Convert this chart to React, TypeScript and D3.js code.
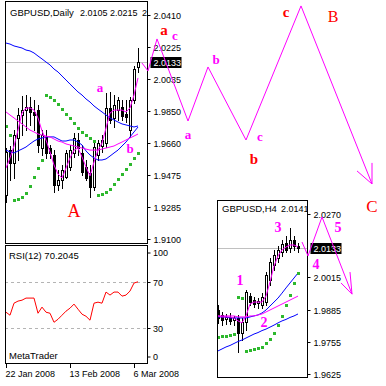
import React, { useEffect, useRef } from 'react';
import * as d3 from 'd3';

// GBPUSD daily bars, 22 Jan 2008 .. 7 Mar 2008
const dOpen = [1.9357, 1.962, 1.9544, 1.9691, 1.9825, 1.9854, 1.9872, 1.9843, 1.9854, 1.9632, 1.9697, 1.9632, 1.9591, 1.9416, 1.9445, 1.9463, 1.9521, 1.9603, 1.9679, 1.9603, 1.9521, 1.9486, 1.9404, 1.9591, 1.9644, 1.9661, 1.9866, 1.9808, 1.9854, 1.9872, 1.9831, 1.9737, 1.9913, 2.0105];
const dHigh = [1.9632, 1.9644, 1.9737, 1.9866, 1.9936, 1.9942, 1.993, 1.9913, 1.9884, 1.9737, 1.9737, 1.965, 1.962, 1.9504, 1.9533, 1.962, 1.965, 1.972, 1.972, 1.965, 1.9562, 1.9533, 1.9661, 1.9679, 1.9708, 1.9954, 1.996, 1.9942, 1.993, 1.9913, 1.9913, 1.993, 2.0112, 2.0215];
const dLow = [1.9316, 1.9445, 1.9457, 1.9562, 1.9708, 1.9737, 1.9767, 1.9737, 1.9609, 1.9591, 1.9574, 1.9574, 1.9375, 1.9387, 1.9398, 1.9457, 1.9504, 1.958, 1.9591, 1.9474, 1.9445, 1.9346, 1.9387, 1.9562, 1.9609, 1.9638, 1.9778, 1.9755, 1.9796, 1.9796, 1.9784, 1.9697, 1.9895, 2.0077];
const dClose = [1.9609, 1.9544, 1.9708, 1.9825, 1.9854, 1.9872, 1.9843, 1.9825, 1.965, 1.9708, 1.9603, 1.9603, 1.9416, 1.9445, 1.9504, 1.9603, 1.962, 1.9691, 1.9632, 1.9492, 1.9457, 1.9404, 1.9638, 1.9661, 1.9679, 1.9866, 1.9796, 1.9884, 1.9913, 1.9819, 1.9814, 1.9913, 2.0094, 2.0133];

// indicator lines
const dBlueSlow = [2.0246, 2.024, 2.0229, 2.0223, 2.0217, 2.0205, 2.02, 2.0188, 2.017, 2.0153, 2.0135, 2.0118, 2.0094, 2.0077, 2.0053, 2.003, 2.0006, 1.9983, 1.996, 1.9942, 1.9919, 1.9901, 1.9878, 1.986, 1.9843, 1.9825, 1.9808, 1.9796, 1.9784, 1.9773, 1.9767, 1.9761, 1.9755, 1.9761];
const dBlueFast = [1.962, 1.9609, 1.9603, 1.9615, 1.9626, 1.9638, 1.9656, 1.9673, 1.9685, 1.9691, 1.9697, 1.9697, 1.9697, 1.9685, 1.9673, 1.9673, 1.9679, 1.9679, 1.9667, 1.965, 1.9615, 1.9591, 1.9574, 1.9562, 1.9562, 1.9568, 1.9585, 1.9603, 1.962, 1.9644, 1.9667, 1.9697, 1.9726, 1.9755];
const dMagSlow = [1.9843, 1.9825, 1.9808, 1.979, 1.9773, 1.9755, 1.9737, 1.9726, 1.9714, 1.9708, 1.9702, 1.9697, 1.9685, 1.9673, 1.9667, 1.9656, 1.965, 1.9644, 1.9638, 1.9632, 1.9626, 1.962, 1.962, 1.962, 1.9626, 1.9632, 1.9638, 1.9644, 1.9656, 1.9667, 1.9679, 1.9691, 1.9702, 1.9714];
const dMagFast = [1.9515, 1.9574, 1.9644, 1.9737, 1.9837, 1.9866, 1.9866, 1.9854, 1.9808, 1.9732, 1.9679, 1.9609, 1.9533, 1.948, 1.9457, 1.9515, 1.9574, 1.962, 1.9632, 1.958, 1.9521, 1.9469, 1.955, 1.962, 1.9661, 1.9749, 1.9837, 1.9854, 1.9854, 1.9854, 1.9843, 1.9866, 1.9942, 2.0042];
const dSar = [1.9761, 1.9708, 1.9328, 1.9334, 1.9346, 1.9369, 1.941, 1.9463, 1.9515, 1.9562, 1.9942, 1.993, 1.9913, 1.989, 1.986, 1.9831, 1.9808, 1.9778, 1.9749, 1.9726, 1.9708, 1.9691, 1.9673, 1.9357, 1.9363, 1.9375, 1.9392, 1.9422, 1.9451, 1.948, 1.9509, 1.9539, 1.9574, 1.9603];
const dRsi = [43.9, 41.3, 51.7, 53.5, 54.3, 56.1, 56.1, 56.1, 43.0, 48.3, 43.9, 43.0, 35.2, 37.8, 41.3, 44.8, 47.4, 50.9, 46.5, 42.2, 40.4, 37.0, 51.7, 52.6, 51.7, 61.3, 58.7, 61.3, 61.3, 57.8, 58.7, 62.2, 69.1, 70.2];

const dPriceTicks = [2.041, 2.0225, 2.0035, 1.985, 1.966, 1.9475, 1.9285, 1.91];
const rsiTicks = [100, 70, 30, 0];
const dateTickIdx = [0, 16, 32];
const dateTickLabels = ['22 Jan 2008', '13 Feb 2008', '6 Mar 2008'];
const lastPrice = 2.0133;

// GBPUSD H4 inset bars
const hOpen = [1.9883, 1.9863, 1.9847, 1.9855, 1.9843, 1.9851, 1.979, 1.9835, 1.9939, 1.9923, 1.9911, 1.9903, 1.9915, 2.0004, 2.0064, 2.0093, 2.0117, 2.0153, 2.0133, 2.0165, 2.0141];
const hHigh = [1.9903, 1.9875, 1.9867, 1.9871, 1.9859, 1.9863, 1.9851, 1.9964, 1.9951, 1.9935, 1.9931, 1.9951, 2.0036, 2.0093, 2.0125, 2.0141, 2.0165, 2.0181, 2.0214, 2.0181, 2.0153];
const hLow = [1.9831, 1.9822, 1.9826, 1.9826, 1.9822, 1.9714, 1.9762, 1.9802, 1.9903, 1.9895, 1.9891, 1.9891, 1.9903, 1.9984, 2.0044, 2.0076, 2.0101, 2.0117, 2.0117, 2.0125, 2.0117];
const hClose = [1.9851, 1.9843, 1.9855, 1.9839, 1.9851, 1.979, 1.9835, 1.9955, 1.9915, 1.9907, 1.9919, 1.9935, 2.0024, 2.0076, 2.0105, 2.0125, 2.0149, 2.0125, 2.0165, 2.0141, 2.0133];
const hMagFast = [1.9859, 1.9855, 1.9855, 1.9855, 1.9851, 1.9839, 1.9831, 1.9859, 1.9907, 1.9915, 1.9915, 1.9915, 1.9939, 1.9996, 2.006, 2.0101, 2.0125, 2.0137, 2.0145, 2.0145, 2.0137];
const hMagSlow = [1.9859, 1.9859, 1.9859, 1.9859, 1.9859, 1.9855, 1.9855, 1.9855, 1.9859, 1.9859, 1.9863, 1.9867, 1.9875, 1.9883, 1.9891, 1.9899, 1.9907, 1.9915, 1.9923, 1.9931, 1.9939];
const hBlueFast = [1.9855, 1.9855, 1.9855, 1.9851, 1.9851, 1.9851, 1.9851, 1.9851, 1.9855, 1.9859, 1.9863, 1.9871, 1.9883, 1.9899, 1.9915, 1.9931, 1.9951, 1.9972, 1.9992, 2.0012, 2.0032];
const hBlueSlow = [1.9718, 1.9726, 1.9734, 1.974, 1.9748, 1.9756, 1.9762, 1.977, 1.9778, 1.9786, 1.9792, 1.98, 1.9806, 1.9814, 1.9822, 1.9831, 1.9839, 1.9845, 1.9853, 1.9859, 1.9867];
const hSar = [1.9774, 1.9778, 1.9778, 1.9782, 1.9786, 1.9935, 1.9931, 1.9718, 1.9722, 1.9726, 1.973, 1.9734, 1.975, 1.9766, 1.979, 1.9822, 1.9859, 1.9903, 1.9943, 1.9992, 2.0032];
const hPriceTicks = [2.027, 2.0015, 1.9885, 1.9755, 1.9625];

// hand-drawn wave forecasts: [bar offset, price]
const waveDaily = [[34, 2.0129], [35.5, 2.0083], [37.75, 2.027], [45.5, 1.979], [50.5, 2.0106], [60, 1.9679], [73.75, 2.0463], [91.5, 1.9422]];
const waveDailyHead = [[87.75, 1.9498], [91.5, 1.9422], [91.5, 1.9545]];
const waveH4 = [[21, 2.0157], [22.5, 2.0101], [26, 2.0258], [33.5, 1.9947]];
const waveH4Head = [[30.75, 1.9992], [33.5, 1.9947], [33, 2.0036]];

// wave labels: [bar offset, price, text, colour, size, bold]
const dailyLabels: [number, number, string, string, number, boolean][] = [
  [23.5, 1.996, 'a', '#ff00ff', 13, true],
  [31, 1.9603, 'b', '#ff00ff', 13, true],
  [17, 1.9229, 'A', '#ff0000', 18, false],
  [39.5, 2.0293, 'a', '#ff0000', 15, true],
  [42.25, 2.0264, 'c', '#ff00ff', 13, true],
  [52.5, 2.0123, 'b', '#ff00ff', 13, true],
  [45.5, 1.9685, 'a', '#ff00ff', 13, true],
  [63.5, 1.9673, 'c', '#ff00ff', 13, true],
  [62, 1.9539, 'b', '#ff0000', 15, true],
  [70, 2.0398, 'c', '#ff0000', 15, true],
  [81.75, 2.0369, 'B', '#ff0000', 16, false],
  [91.5, 1.9258, 'C', '#ff0000', 17, false],
];
const h4Labels: [number, number, string][] = [
  [15, 2.0197, '3'],
  [30, 2.0197, '5'],
  [24.5, 2.0048, '4'],
  [5.5, 1.9984, '1'],
  [11.5, 1.9814, '2'],
];

const UI_FONT = '"Liberation Sans", Arial, sans-serif';
const LABEL_FONT = '"Liberation Serif", "Times New Roman", serif';

function candles(g, o, h, l, c, x, y) {
  o.forEach((open, i) => {
    const cx = Math.round(x(i));
    const top = Math.round(y(Math.max(open, c[i])));
    const bot = Math.round(y(Math.min(open, c[i])));
    g.append('line')
      .attr('x1', cx + 0.5).attr('x2', cx + 0.5)
      .attr('y1', Math.round(y(h[i]))).attr('y2', Math.round(y(l[i])) + 1)
      .attr('stroke', '#000');
    g.append('rect')
      .attr('x', cx - 0.5).attr('y', top + 0.5)
      .attr('width', 2).attr('height', Math.max(bot - top, 1))
      .attr('fill', c[i] >= open ? '#fff' : '#000')
      .attr('stroke', '#000');
  });
}

function series(g, vals, x, y, color) {
  g.append('path')
    .datum(vals)
    .attr('fill', 'none')
    .attr('stroke', color)
    .attr('stroke-width', 1)
    .attr('d', d3.line<number>().x((d, i) => x(i)).y((d) => y(d)));
}

function dots(g, vals, x, y) {
  g.selectAll(null)
    .data(vals)
    .enter()
    .append('rect')
    .attr('x', (d, i) => Math.round(x(i)) - 1)
    .attr('y', (d) => Math.round(y(d)) - 1)
    .attr('width', 3)
    .attr('height', 3)
    .attr('fill', '#2db82d');
}

function priceAxis(svg, ticks, y, x0, last) {
  ticks.forEach((t) => {
    const yy = Math.round(y(t)) + 0.5;
    svg.append('line').attr('x1', x0).attr('x2', x0 + 3).attr('y1', yy).attr('y2', yy).attr('stroke', '#000');
    svg.append('text').attr('x', x0 + 6).attr('y', yy).attr('dy', '0.35em')
      .attr('font-family', UI_FONT).attr('font-size', 9).text(t.toFixed(4));
  });
  const ly = Math.round(y(last));
  svg.append('rect').attr('x', x0 + 3).attr('y', ly - 5).attr('width', 31).attr('height', 11).attr('fill', '#000');
  svg.append('text').attr('x', x0 + 6).attr('y', ly + 0.5).attr('dy', '0.35em')
    .attr('font-family', UI_FONT).attr('font-size', 9).attr('fill', '#fff').text(last.toFixed(4));
}

function waveLine(svg, pts, x, y) {
  svg.append('path')
    .datum(pts)
    .attr('fill', 'none')
    .attr('stroke', '#ff00ff')
    .attr('d', d3.line<number[]>().x((d) => x(d[0])).y((d) => y(d[1])));
}

const App = () => {
  const ref = useRef<SVGSVGElement>(null);

  useEffect(() => {
    const svg = d3.select(ref.current);
    svg.selectAll('*').remove();

    // panels
    const main = { x0: 5, x1: 147, y0: 1, y1: 243 };
    const rsiP = { x0: 5, x1: 147, y0: 245, y1: 363 };
    const ins = { x0: 217, x1: 307, y0: 200, y1: 377 };

    const xD = d3.scaleLinear().domain([0, 33]).range([6, 138]);
    const yD = d3.scaleLinear().domain([1.91, 2.041]).range([239, 15]);
    const yR = d3.scaleLinear().domain([0, 100]).range([363, 247.3]);
    const xH = d3.scaleLinear().domain([0, 20]).range([218, 298]);
    const yH = d3.scaleLinear().domain([1.9625, 2.027]).range([374, 214]);

    const defs = svg.append('defs');
    [['clipMain', main], ['clipRsi', rsiP], ['clipIns', ins]].forEach(([id, p]: any) => {
      defs.append('clipPath').attr('id', id).append('rect')
        .attr('x', p.x0).attr('y', p.y0).attr('width', p.x1 - p.x0).attr('height', p.y1 - p.y0);
    });

    // ---- daily chart ----
    const gm = svg.append('g').attr('clip-path', 'url(#clipMain)');
    const lpY = Math.round(yD(lastPrice)) + 0.5;
    gm.append('line').attr('x1', main.x0).attr('x2', main.x1).attr('y1', lpY).attr('y2', lpY).attr('stroke', '#c0c0c0');
    candles(gm, dOpen, dHigh, dLow, dClose, xD, yD);
    series(gm, dBlueSlow, xD, yD, '#0000ff');
    series(gm, dBlueFast, xD, yD, '#0000ff');
    series(gm, dMagSlow, xD, yD, '#ff00ff');
    series(gm, dMagFast, xD, yD, '#ff00ff');
    dots(gm, dSar, xD, yD);
    // header is cut by the panel edge, only the first digit of the low shows
    const title = [[10, 'GBPUSD,Daily', 9.5], [80, '2.0105', 9], [110, '2.0215', 9], [142, '2', 9]];
    title.forEach(([x, t, s]) => {
      gm.append('text').attr('x', x).attr('y', 16).attr('font-family', UI_FONT).attr('font-size', s).text(t as string);
    });
    svg.append('rect').attr('x', main.x0 + 0.5).attr('y', main.y0 + 0.5)
      .attr('width', main.x1 - main.x0).attr('height', main.y1 - main.y0)
      .attr('fill', 'none').attr('stroke', '#000');
    priceAxis(svg, dPriceTicks, yD, main.x1 + 0.5, lastPrice);

    // ---- RSI ----
    const gr = svg.append('g').attr('clip-path', 'url(#clipRsi)');
    [70, 30].forEach((v) => {
      const yy = Math.round(yR(v)) + 0.5;
      gr.append('line').attr('x1', rsiP.x0).attr('x2', rsiP.x1).attr('y1', yy).attr('y2', yy)
        .attr('stroke', '#b4b4b4').attr('stroke-dasharray', '3,3');
    });
    series(gr, dRsi, xD, yR, '#ff0000');
    gr.append('text').attr('x', 9).attr('y', 259).attr('font-family', UI_FONT).attr('font-size', 9.5).text('RSI(12) 70.2045');
    gr.append('text').attr('x', 9).attr('y', 359).attr('font-family', UI_FONT).attr('font-size', 9.5).text('MetaTrader');
    svg.append('rect').attr('x', rsiP.x0 + 0.5).attr('y', rsiP.y0 + 0.5)
      .attr('width', rsiP.x1 - rsiP.x0).attr('height', rsiP.y1 - rsiP.y0)
      .attr('fill', 'none').attr('stroke', '#000');
    rsiTicks.forEach((v) => {
      const yy = Math.round(yR(v)) + 0.5;
      const ly = Math.min(Math.max(yy, 253), 357);
      svg.append('line').attr('x1', rsiP.x1 + 0.5).attr('x2', rsiP.x1 + 3.5).attr('y1', ly).attr('y2', ly).attr('stroke', '#000');
      svg.append('text').attr('x', rsiP.x1 + 6).attr('y', ly).attr('dy', '0.35em')
        .attr('font-family', UI_FONT).attr('font-size', 9).text(String(v));
    });

    // date axis
    dateTickIdx.forEach((idx, k) => {
      const xx = Math.round(xD(idx)) + 0.5;
      svg.append('line').attr('x1', xx).attr('x2', xx).attr('y1', rsiP.y1 + 1).attr('y2', rsiP.y1 + 5).attr('stroke', '#000');
      svg.append('text').attr('x', xx - 1).attr('y', 377).attr('font-family', UI_FONT).attr('font-size', 9).text(dateTickLabels[k]);
    });

    // daily wave forecast
    waveLine(svg, waveDaily, xD, yD);
    waveLine(svg, waveDailyHead, xD, yD);
    dailyLabels.forEach(([i, p, t, col, size, bold]) => {
      svg.append('text').attr('x', xD(i)).attr('y', yD(p)).attr('text-anchor', 'middle')
        .attr('font-family', LABEL_FONT).attr('font-size', size)
        .attr('font-weight', bold ? 'bold' : 'normal').attr('fill', col).text(t);
    });

    // ---- H4 inset ----
    svg.append('rect').attr('x', ins.x0 + 0.5).attr('y', ins.y0 + 0.5)
      .attr('width', ins.x1 - ins.x0).attr('height', ins.y1 - ins.y0)
      .attr('fill', '#fff').attr('stroke', 'none');
    const gi = svg.append('g').attr('clip-path', 'url(#clipIns)');
    const ilY = Math.round(yH(lastPrice)) + 0.5;
    gi.append('line').attr('x1', ins.x0).attr('x2', ins.x1).attr('y1', ilY).attr('y2', ilY).attr('stroke', '#c0c0c0');
    candles(gi, hOpen, hHigh, hLow, hClose, xH, yH);
    series(gi, hBlueFast, xH, yH, '#0000ff');
    series(gi, hBlueSlow, xH, yH, '#0000ff');
    series(gi, hMagSlow, xH, yH, '#ff00ff');
    series(gi, hMagFast, xH, yH, '#ff00ff');
    dots(gi, hSar, xH, yH);
    [[222, 'GBPUSD,H4', 9.5], [281, '2.0141', 9]].forEach(([x, t, s]) => {
      gi.append('text').attr('x', x).attr('y', 212).attr('font-family', UI_FONT).attr('font-size', s).text(t as string);
    });
    svg.append('rect').attr('x', ins.x0 + 0.5).attr('y', ins.y0 + 0.5)
      .attr('width', ins.x1 - ins.x0).attr('height', ins.y1 - ins.y0)
      .attr('fill', 'none').attr('stroke', '#000');
    priceAxis(svg, hPriceTicks, yH, ins.x1 + 0.5, lastPrice);
    waveLine(svg, waveH4, xH, yH);
    waveLine(svg, waveH4Head, xH, yH);
    h4Labels.forEach(([j, p, t]) => {
      svg.append('text').attr('x', xH(j)).attr('y', yH(p)).attr('text-anchor', 'middle')
        .attr('font-family', LABEL_FONT).attr('font-size', 14).attr('font-weight', 'bold')
        .attr('fill', '#ff00ff').text(t);
    });
  }, []);

  return (
    <svg
      ref={ref}
      width={386}
      height={386}
      style={{ position: 'absolute', left: 0, top: 0, background: '#fff' }}
    />
  );
};

export default App;
